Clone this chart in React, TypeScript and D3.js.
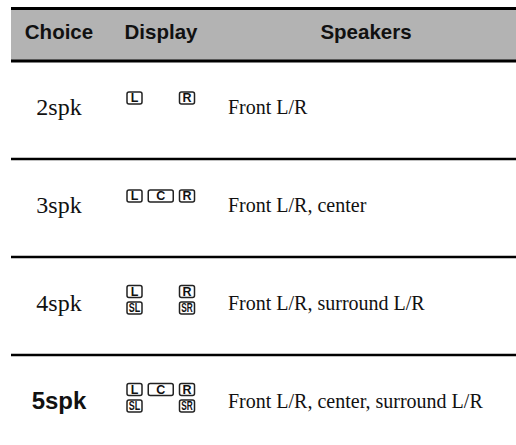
import * as d3 from "d3";

// Table content
const headers = ["Choice", "Display", "Speakers"];
const choices = ["2spk", "3spk", "4spk", "5spk"];
const speakers = [
  "Front L/R",
  "Front L/R, center",
  "Front L/R, surround L/R",
  "Front L/R, center, surround L/R",
];
// display indicators per row: top line, bottom line
const displayTop = [["L", "R"], ["L", "C", "R"], ["L", "R"], ["L", "C", "R"]];
const displayBottom = [[], [], ["SL", "SR"], ["SL", "SR"]];
const selected = "5spk";

const W = 516;
const H = 445;
const left = 11;
const headTop = 8.5;
const headBottom = 61;
const rowH = 98;

const serif = "'Liberation Serif', 'Times New Roman', serif";
const sans = "'Liberation Sans', Arial, Helvetica, sans-serif";

// slot for each indicator: L/SL left, C middle, R/SR right
const slotOf = (k: string) => (k === "C" ? "C" : k.endsWith("L") ? "L" : "R");

const Indicator = ({ label, cx, cy }: { label: string; cx: number; cy: number }) => {
  const w = label === "C" ? 25 : 15;
  const h = 12;
  const multi = label.length > 1;
  return (
    <g>
      <rect
        x={cx - w / 2}
        y={cy - h / 2}
        width={w}
        height={h}
        rx={2}
        fill="#fff"
        stroke="#222"
        strokeWidth={1.5}
      />
      <text
        x={cx}
        y={cy + 4.4}
        textAnchor="middle"
        fontFamily={sans}
        fontWeight="bold"
        fontSize={multi ? 12 : 12.5}
        fill="#111"
        {...(multi ? { textLength: 11.5, lengthAdjust: "spacingAndGlyphs" } : {})}
      >
        {label}
      </text>
    </g>
  );
};

export default function App() {
  const rows = d3
    .scaleBand<string>()
    .domain(choices)
    .range([headBottom, headBottom + rowH * choices.length])
    .padding(0);

  const colCenter = d3
    .scaleOrdinal<string, number>()
    .domain(headers)
    .range([59, 161, 366]);

  const slot = d3.scalePoint<string>().domain(["L", "C", "R"]).range([134.5, 187]);
  const speakersX = 228;

  return (
    <div style={{ position: "fixed", left: 0, top: 0 }}>
      <svg width={W} height={H} style={{ display: "block", background: "#fff" }}>
        {/* header band */}
        <rect x={left} y={headTop} width={W - left} height={headBottom - headTop} fill="#b3b3b3" />
        <line x1={left} x2={W} y1={headTop} y2={headTop} stroke="#000" strokeWidth={3} />
        <line x1={left} x2={W} y1={headBottom} y2={headBottom} stroke="#000" strokeWidth={3} />
        {headers.map((h) => (
          <text
            key={h}
            x={colCenter(h)}
            y={38.5}
            textAnchor="middle"
            fontFamily={sans}
            fontWeight="bold"
            fontSize={20.5}
            fill="#111"
          >
            {h}
          </text>
        ))}

        {choices.map((c, i) => {
          const top = rows(c)!;
          const mid = top + 45.5;
          const twoLines = displayBottom[i].length > 0;
          const yTop = twoLines ? top + 34.5 : top + 37;
          const yBot = top + 51;
          const isSel = c === selected;
          return (
            <g key={c}>
              {i < choices.length - 1 && (
                <line
                  x1={left}
                  x2={W}
                  y1={top + rows.bandwidth()}
                  y2={top + rows.bandwidth()}
                  stroke="#000"
                  strokeWidth={2.5}
                />
              )}
              <text
                x={colCenter("Choice")}
                y={mid + 8.5}
                textAnchor="middle"
                fontFamily={isSel ? sans : serif}
                fontWeight={isSel ? "bold" : "normal"}
                fontSize={24}
                fill="#111"
              >
                {c}
              </text>
              {displayTop[i].map((k) => (
                <Indicator key={"t" + k} label={k} cx={slot(slotOf(k))!} cy={yTop} />
              ))}
              {displayBottom[i].map((k) => (
                <Indicator key={"b" + k} label={k} cx={slot(slotOf(k))!} cy={yBot} />
              ))}
              <text x={speakersX} y={mid + 7} fontFamily={serif} fontSize={20} fill="#111">
                {speakers[i]}
              </text>
            </g>
          );
        })}
      </svg>
    </div>
  );
}
